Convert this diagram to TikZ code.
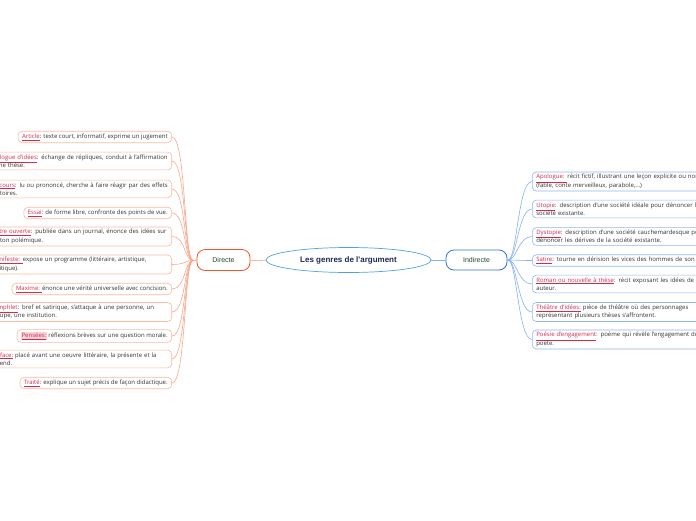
\documentclass[tikz,border=0pt]{standalone}
\usepackage{fontspec}
\setmainfont{Open Sans}
\newfontfamily\arialf{Liberation Sans}
\usetikzlibrary{shapes.geometric}
\definecolor{salmonline}{HTML}{F8A88C}
\definecolor{salmonbox}{HTML}{F9B9A3}
\definecolor{orangeb}{HTML}{F0562A}
\definecolor{blueline}{HTML}{86B2F2}
\definecolor{bluebox}{HTML}{8FB8F2}
\definecolor{blueb}{HTML}{2F6FE0}
\definecolor{ellb}{HTML}{4FA3E3}
\definecolor{labred}{HTML}{D42A4C}
\definecolor{pinkhl}{HTML}{F9D3DA}
\definecolor{navy}{HTML}{1B2A55}
\definecolor{dgreen}{HTML}{1F4A2C}
\definecolor{txt}{HTML}{333333}
\newcommand{\lab}[1]{{\color{labred}\underline{#1}}}
\newcommand{\labhl}[1]{{\setlength{\fboxsep}{0.6pt}\colorbox{pinkhl}{\color{labred}\underline{#1}}}}
\newcommand{\oneline}[1]{\mbox{#1}}
\tikzset{
  x=1pt,y=-1pt,
  boxtxt/.style={font=\fontsize{6}{8.2}\selectfont, text=txt, align=left, fill=white, rounded corners=4pt, line width=0.6pt, inner xsep=4pt, inner ysep=2.4pt},
  lbox/.style={boxtxt, draw=salmonbox, anchor=east},
  lboxw/.style={lbox, text width=177pt},
  rbox/.style={boxtxt, draw=bluebox, anchor=west, text width=220pt},
  lconn/.style={draw=salmonline, line width=0.6pt},
  rconn/.style={draw=blueline, line width=0.6pt},
}
\begin{document}
\begin{tikzpicture}
\useasboundingbox (0,0) rectangle (696,520);
\fill[white] (0,0) rectangle (696,520);
% center
\node[ellipse, draw=ellb, line width=0.7pt, minimum width=165pt, minimum height=25pt, inner sep=0pt, font=\arialf\bfseries\fontsize{8}{9}\selectfont, text=navy] (root) at (348.5,260) {Les genres de l'argument};
\node[draw=orangeb, line width=0.8pt, rounded corners=8pt, minimum width=53pt, minimum height=21pt, inner sep=0pt, font=\arialf\fontsize{7}{8}\selectfont, text=dgreen, fill=white] (dir) at (223.5,260) {Directe};
\node[draw=blueb, line width=0.8pt, rounded corners=8pt, minimum width=61pt, minimum height=20pt, inner sep=0pt, font=\arialf\fontsize{7}{8}\selectfont, text=dgreen, fill=white] (ind) at (476.5,260) {Indirecte};
\draw[draw=salmonbox, line width=0.8pt] (root.west) -- (dir.east);
\draw[draw=blueline, line width=0.8pt] (root.east) -- (ind.west);
\coordinate (jl) at (193,260.5);
\coordinate (jr) at (508,260);
\draw[lconn, line width=1pt] (jl) -- (dir.west);
\draw[rconn, line width=1pt] (ind.east) -- (jr);
% left boxes
\node[lbox] (l1) at (172,137) {\lab{Article}: texte court, informatif, exprime un jugement};
\node[lboxw] (l2) at (172,161) {\oneline{\lab{Dialogue d'idées}: échange de répliques, conduit à l'affirmation}\\d'une thèse.};
\node[lboxw] (l3) at (172,189) {\oneline{\lab{Discours}: lu ou prononcé, cherche à faire réagir par des effets}\\oratoires.};
\node[lbox] (l4) at (172,213) {\lab{Essai}: de forme libre, confronte des points de vue.};
\node[lboxw] (l5) at (172,236.5) {\oneline{\lab{Lettre ouverte}: publiée dans un journal, énonce des idées sur}\\un ton polémique.};
\node[lboxw] (l6) at (172,264.5) {\oneline{\lab{Manifeste: }expose un programme (littéraire, artistique,}\\politique).};
\node[lbox] (l7) at (172,289) {\lab{Maxime: }énonce une vérité universelle avec concision.};
\node[lboxw] (l8) at (172,312) {\oneline{\lab{Pamphlet}: bref et satirique, s'attaque à une personne, un}\\groupe, une institution.};
\node[lbox] (l9) at (172,336) {\labhl{Pensées:} réflexions brèves sur une question morale.};
\node[lboxw] (l10) at (172,359) {\oneline{\lab{Préface:} placé avant une oeuvre littéraire, la présente et la}\\défend.};
\node[lbox] (l11) at (172,383) {\lab{Traité}: explique un sujet précis de façon didactique.};
\foreach \n in {l1,l2,l3,l4,l5,l6,l7,l8,l9,l10,l11}
  \draw[lconn] (\n.east) .. controls +(14,0) and +(-9,0) .. (jl);
% right boxes
\node[rbox] (r1) at (532,181.5) {\lab{Apologue: }récit fictif, illustrant une leçon explicite ou non\\(fable, conte merveilleux, parabole,...)};
\node[rbox] (r2) at (532,209) {\lab{Utopie}: description d'une société idéale pour dénoncer la\\société existante.};
\node[rbox] (r3) at (532,236.5) {\lab{Dystopie}: description d'une société cauchemardesque pour\\dénoncer les dérives de la société existante.};
\node[rbox] (r4) at (532,260.5) {\lab{Satire}: tourne en dérision les vices des hommes de son temps.};
\node[rbox] (r5) at (532,284) {\lab{Roman ou nouvelle à thèse}: récit exposant les idées de son\\auteur.};
\node[rbox] (r6) at (532,312) {\lab{Théâtre d'idées:} pièce de théâtre où des personnages\\représentant plusieurs thèses s'affrontent.};
\node[rbox] (r7) at (532,339.5) {\lab{Poésie d'engagement}: poème qui révèle l'engagement du\\poète.};
\foreach \n in {r1,r2,r3,r4,r5,r6,r7}
  \draw[rconn] (jr) .. controls +(9,0) and +(-14,0) .. (\n.west);
\end{tikzpicture}
\end{document}
